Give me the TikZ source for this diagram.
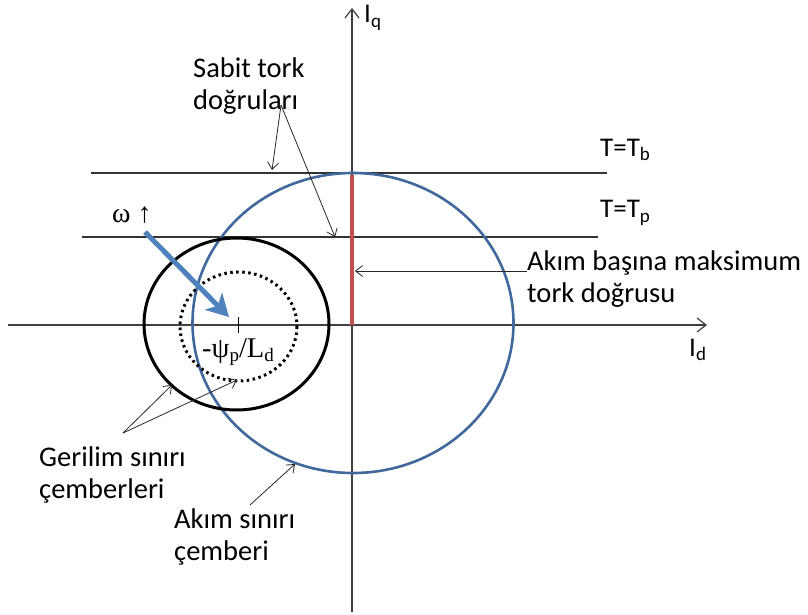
\documentclass[tikz,border=0pt]{standalone}
\usepackage{fontspec}
\setmainfont{Carlito}
\newfontfamily\serifg{Liberation Serif}
\usetikzlibrary{arrows.meta}
\definecolor{curblue}{RGB}{64,104,156}
\definecolor{arrblue}{RGB}{79,129,189}
\definecolor{mtpared}{RGB}{192,80,77}
\newcommand{\sbs}[1]{\raisebox{-0.35ex}{\fontsize{19}{19}\selectfont #1}}
\tikzset{
  lbl/.style={font=\fontsize{28.5}{32.5}\selectfont, align=left, inner sep=0pt, anchor=west},
  tlbl/.style={font=\fontsize{27}{30}\selectfont, inner sep=0pt, anchor=west},
  axis/.style={line width=1.2pt, draw=black!75, -{Straight Barb[length=9pt,width=14pt]}},
  tline/.style={line width=1.2pt, draw=black!80},
  pointer/.style={line width=0.8pt, draw=black!85, -{Straight Barb[length=7pt,width=11pt]}}
}
\begin{document}
\begin{tikzpicture}[x=1pt,y=-1pt]
\useasboundingbox (0,0) rectangle (808,615);
% axes
\coordinate (xs) at (8,325);
\coordinate (xe) at (707,325);
\coordinate (ys) at (352,612);
\coordinate (ye) at (352,8);
\draw[axis] (xs) -- (xe);
\draw[axis] (ys) -- (ye);
\node[tlbl] (iq) at (364,18) {I\sbs{q}};
\node[tlbl] (id) at (689,350) {I\sbs{d}};
% torque lines
\coordinate (tb1) at (91,173); \coordinate (tb2) at (607,173);
\coordinate (tp1) at (82,237); \coordinate (tp2) at (598,237);
\draw[tline] (tb1) -- (tb2);
\draw[tline] (tp1) -- (tp2);
\node[tlbl] (tb) at (600,150) {T=T\sbs{b}};
\node[tlbl] (tp) at (600,213) {T=T\sbs{p}};
% current limit circle
\draw[curblue, line width=2.6pt] (353,323) ellipse [x radius=160.5, y radius=150];
% voltage limit circles
\draw[black, line width=3pt] (236.5,324) ellipse [x radius=92.5, y radius=86];
\draw[black, line width=3pt, dash pattern=on 2.5pt off 3.5pt] (238.5,326.5) ellipse [x radius=58.5, y radius=54.5];
\coordinate (tk1) at (238,317); \coordinate (tk2) at (238,333);
\draw[line width=1pt] (tk1) -- (tk2);
\node[font=\serifg\fontsize{28.5}{28.5}\selectfont, inner sep=0pt] (psi) at (238,352) {-ψ\sbs{p}/L\sbs{d}};
% MTPA line
\coordinate (m1) at (352,175); \coordinate (m2) at (352,325);
\draw[mtpared, line width=4.5pt] (m1) -- (m2);
% omega arrow
\node[font=\serifg\fontsize{28}{28}\selectfont, inner sep=0pt, anchor=west] (om) at (112,215) {ω ↑};
\coordinate (wa) at (145,232); \coordinate (wb) at (229,317);
\draw[arrblue, line width=5pt, -{Stealth[length=22pt,width=24pt,inset=6pt]}] (wa) -- (wb);
% labels
\node[lbl] (sabit) at (193,86) {Sabit tork\\doğruları};
\coordinate (sa) at (281,105);
\coordinate (sb1) at (272,170);
\coordinate (sb2) at (335,237);
\draw[pointer] (sa) -- (sb1);
\draw[pointer] (sa) -- (sb2);
\node[lbl] (mtpa) at (527,279) {Akım başına maksimum\\tork doğrusu};
\coordinate (ma) at (527,271); \coordinate (mb) at (355,271);
\draw[pointer] (ma) -- (mb);
\node[lbl] (geril) at (39,475) {Gerilim sınırı\\çemberleri};
\coordinate (ga) at (123,433);
\coordinate (gb1) at (172,385);
\coordinate (gb2) at (237,380);
\draw[pointer] (ga) -- (gb1);
\draw[pointer] (ga) -- (gb2);
\node[lbl] (akim) at (174,537) {Akım sınırı\\çemberi};
\coordinate (aa) at (250,505); \coordinate (ab) at (295,464);
\draw[pointer] (aa) -- (ab);
\end{tikzpicture}
\end{document}
